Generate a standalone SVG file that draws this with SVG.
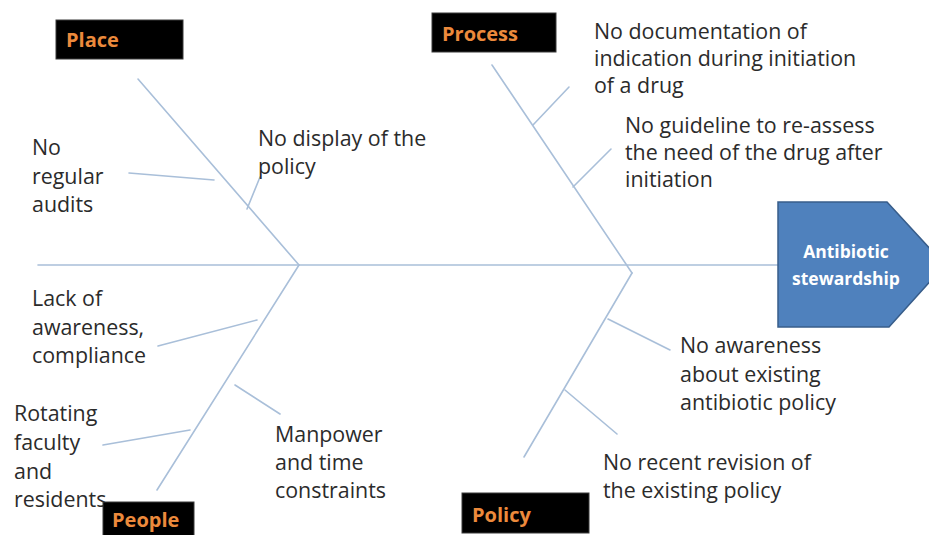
<svg xmlns="http://www.w3.org/2000/svg" width="929" height="535" viewBox="0 0 929 535">
  <style>
    .bone { stroke: #a9bfd9; stroke-width: 1.6; fill: none; stroke-linecap: round; }
    .cause { font-family: "Open Sans", Lato, "Liberation Sans", sans-serif; font-size: 21.4px; fill: #2b2b2b; }
    .cat rect { fill: #000; stroke: #3a3a3a; stroke-width: 1; }
    .cat text { font-family: "Open Sans", Lato, "Liberation Sans", sans-serif; font-size: 20px; font-weight: bold; fill: #ec8a3c; }
    .head polygon { fill: #4f81bd; stroke: #385d8a; stroke-width: 1.5; }
    .head text { font-family: "Open Sans", Lato, "Liberation Sans", sans-serif; font-size: 17.5px; font-weight: bold; fill: #ffffff; text-anchor: middle; }
  </style>
  <rect width="929" height="535" fill="#ffffff"/>

  <!-- skeleton: spine, category bones and cause ribs -->
  <g id="connectors">
    <line class="bone" x1="38" y1="265" x2="778" y2="265"/>
    <!-- Place -->
    <line class="bone" x1="138" y1="79" x2="299" y2="265"/>
    <line class="bone" x1="129" y1="173" x2="214" y2="180"/>
    <line class="bone" x1="247" y1="209" x2="260" y2="177"/>
    <!-- People -->
    <line class="bone" x1="299" y1="265" x2="157" y2="490"/>
    <line class="bone" x1="158" y1="346" x2="257" y2="320"/>
    <line class="bone" x1="235" y1="385" x2="280" y2="414"/>
    <line class="bone" x1="103" y1="445" x2="190" y2="430"/>
    <!-- Process -->
    <line class="bone" x1="492" y1="65" x2="632" y2="273"/>
    <line class="bone" x1="533" y1="125" x2="569" y2="87"/>
    <line class="bone" x1="573" y1="187" x2="611" y2="149"/>
    <!-- Policy -->
    <line class="bone" x1="632" y1="273" x2="524" y2="457"/>
    <line class="bone" x1="608" y1="319" x2="670" y2="350"/>
    <line class="bone" x1="565" y1="390" x2="617" y2="434"/>
  </g>

  <!-- effect -->
  <g id="effect" class="head">
    <polygon points="778,202 887,202 945,265 889,327 778,327"/>
    <text x="846" y="258">Antibiotic</text>
    <text x="846" y="285">stewardship</text>
  </g>

  <!-- causes -->
  <g id="cause-audits">
    <text class="cause"><tspan x="32" y="155">No</tspan><tspan x="32" y="184">regular</tspan><tspan x="32" y="212">audits</tspan></text>
  </g>
  <g id="cause-display">
    <text class="cause"><tspan x="258" y="146">No display of the</tspan><tspan x="258" y="174">policy</tspan></text>
  </g>
  <g id="cause-documentation">
    <text class="cause"><tspan x="594" y="39">No documentation of</tspan><tspan x="594" y="66">indication during initiation</tspan><tspan x="594" y="93">of a drug</tspan></text>
  </g>
  <g id="cause-guideline">
    <text class="cause"><tspan x="625" y="133">No guideline to re-assess</tspan><tspan x="625" y="160">the need of the drug after</tspan><tspan x="625" y="187">initiation</tspan></text>
  </g>
  <g id="cause-awareness">
    <text class="cause"><tspan x="32" y="306">Lack of</tspan><tspan x="32" y="335">awareness,</tspan><tspan x="32" y="363">compliance</tspan></text>
  </g>
  <g id="cause-rotating">
    <text class="cause"><tspan x="14" y="421">Rotating</tspan><tspan x="14" y="450">faculty</tspan><tspan x="14" y="479">and</tspan><tspan x="14" y="507">residents</tspan></text>
  </g>
  <g id="cause-manpower">
    <text class="cause"><tspan x="275" y="442">Manpower</tspan><tspan x="275" y="470">and time</tspan><tspan x="275" y="498">constraints</tspan></text>
  </g>
  <g id="cause-policy-awareness">
    <text class="cause"><tspan x="680" y="353">No awareness</tspan><tspan x="680" y="382">about existing</tspan><tspan x="680" y="410">antibiotic policy</tspan></text>
  </g>
  <g id="cause-revision">
    <text class="cause"><tspan x="603" y="470">No recent revision of</tspan><tspan x="603" y="498">the existing policy</tspan></text>
  </g>

  <!-- category labels -->
  <g id="cat-place" class="cat">
    <rect x="56" y="20" width="127" height="39"/>
    <text x="66" y="47">Place</text>
  </g>
  <g id="cat-process" class="cat">
    <rect x="432" y="13" width="124" height="39"/>
    <text x="442" y="41">Process</text>
  </g>
  <g id="cat-people" class="cat">
    <rect x="103" y="502" width="91" height="40"/>
    <text x="112" y="527">People</text>
  </g>
  <g id="cat-policy" class="cat">
    <rect x="462" y="493" width="127" height="40"/>
    <text x="472" y="522">Policy</text>
  </g>
</svg>
